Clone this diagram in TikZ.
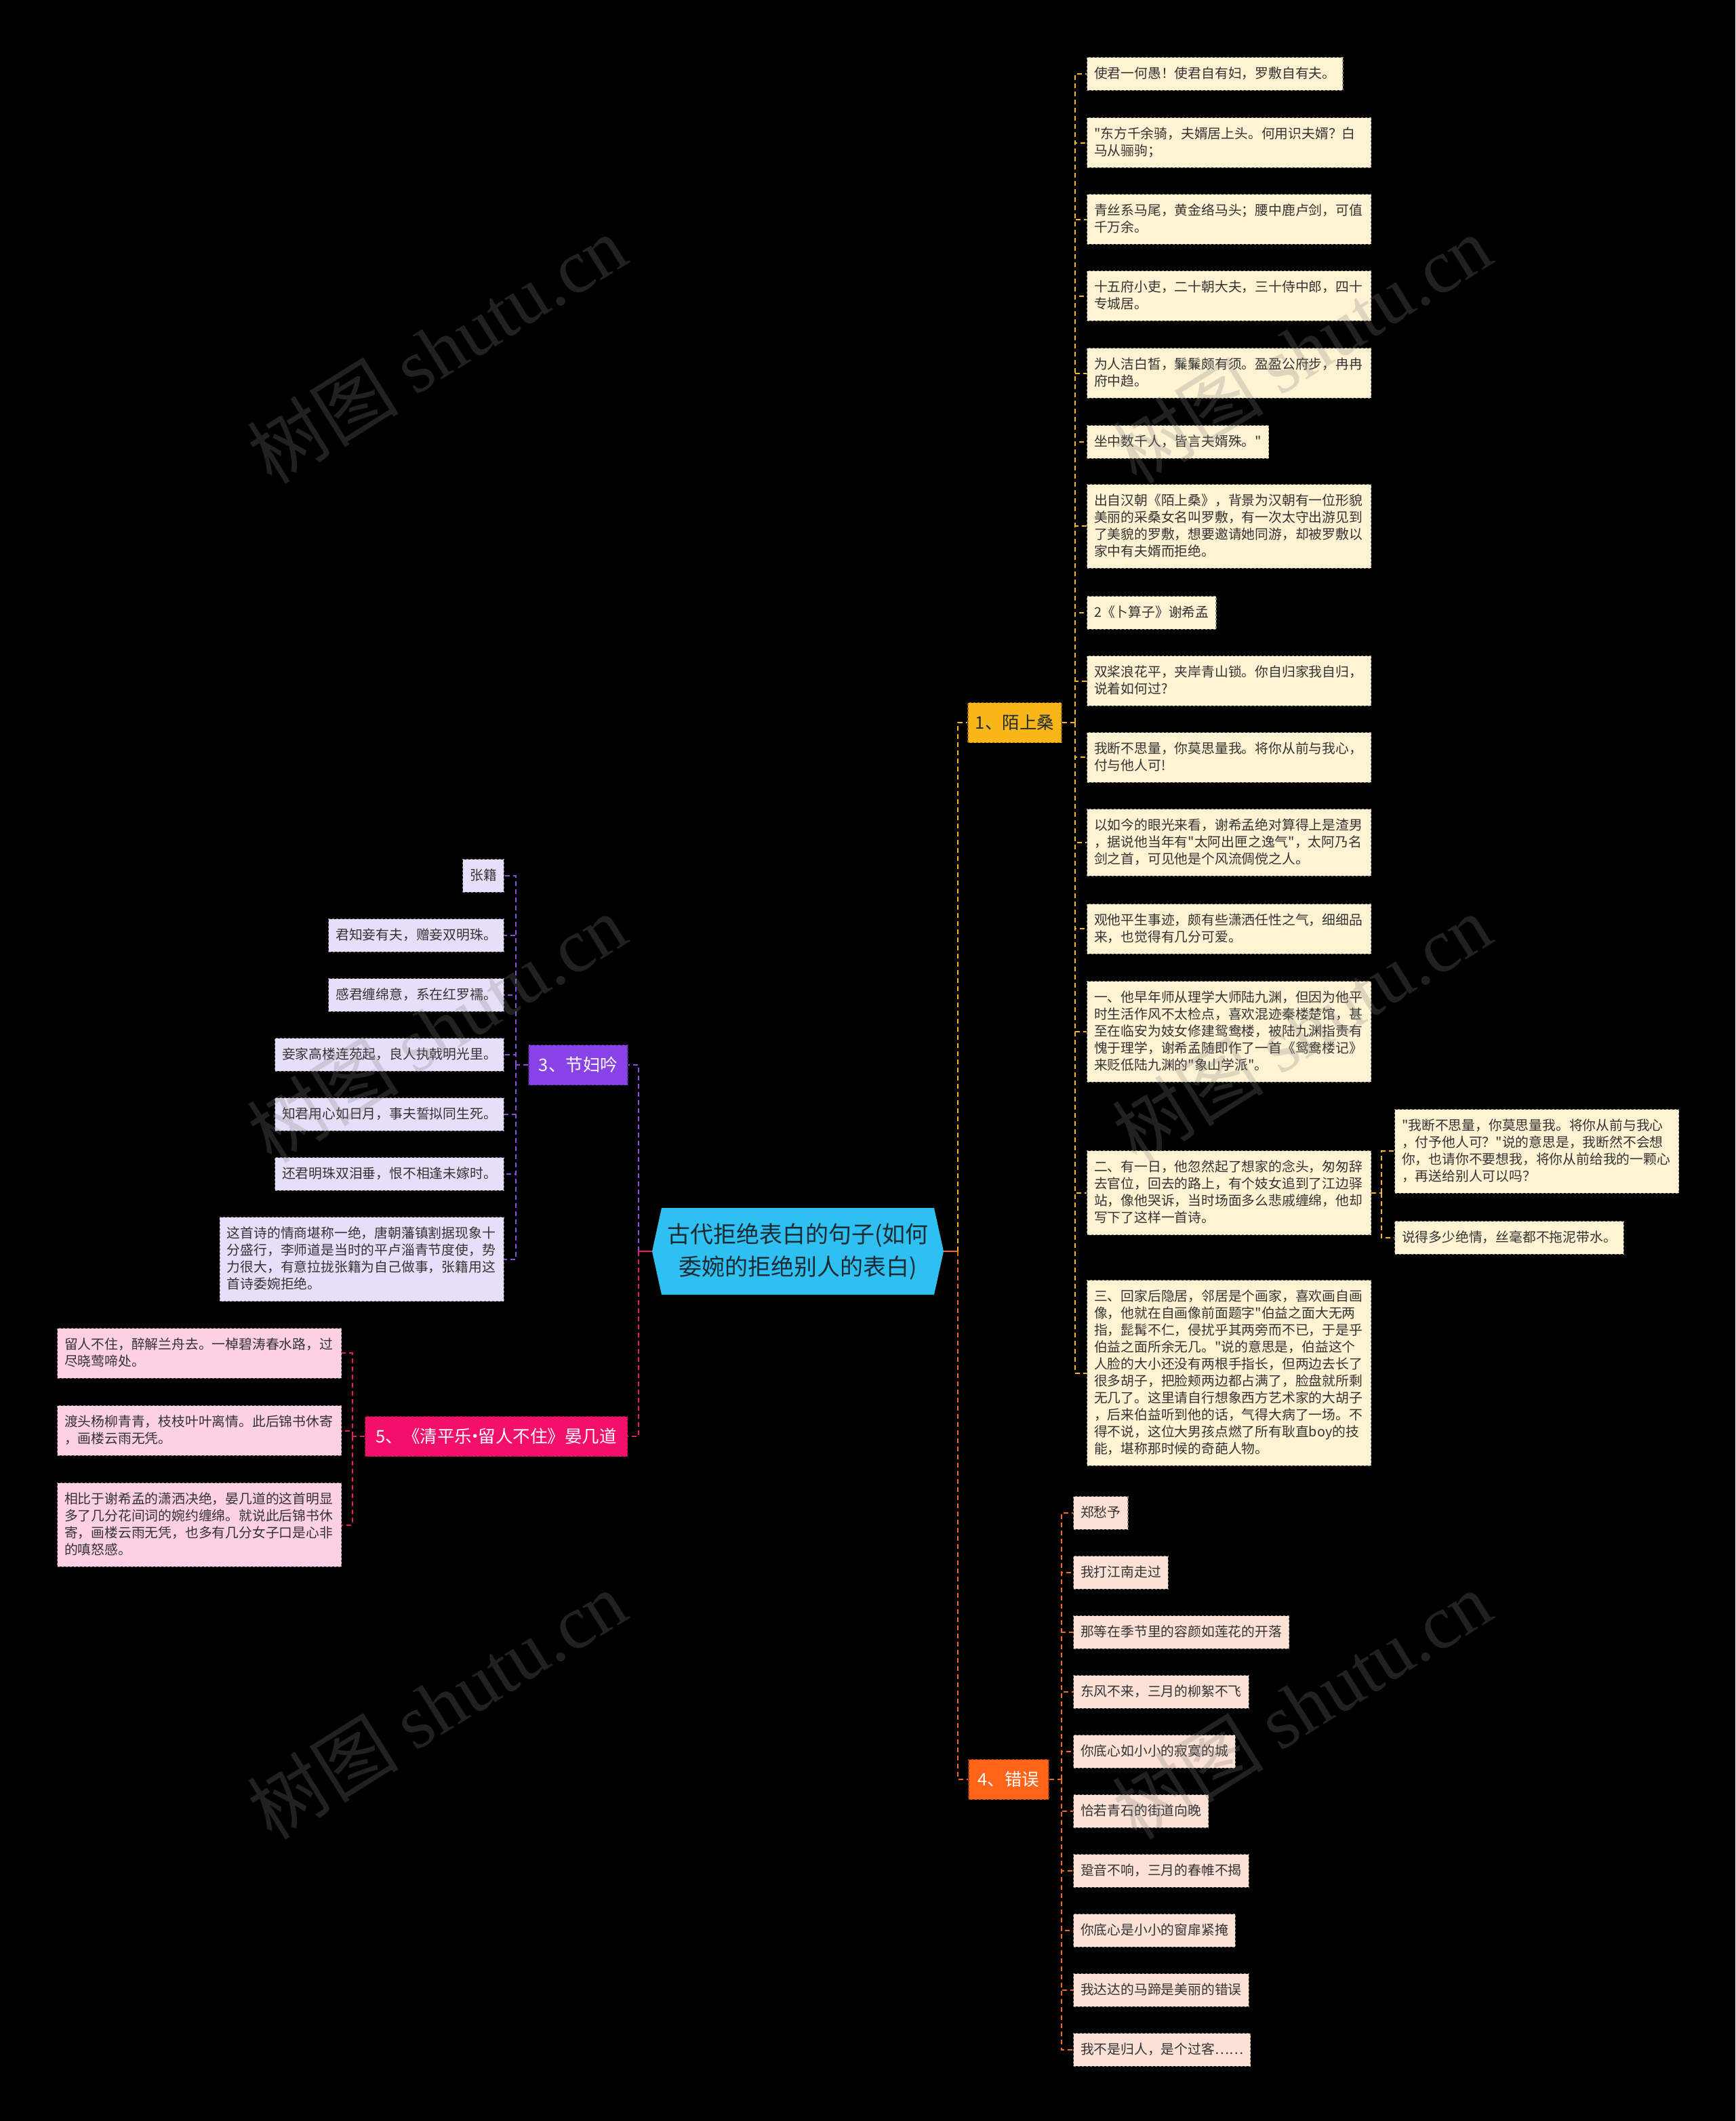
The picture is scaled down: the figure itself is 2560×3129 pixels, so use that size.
\documentclass[tikz,border=0pt]{standalone}
\usepackage{fontspec}
\newfontfamily\cjk{Noto Sans CJK SC}
\newfontfamily\wmlatin{Liberation Serif}
\newcommand\leafsize{\cjk\fontsize{19.8}{25}\selectfont}
\newcommand\branchsize{\cjk\fontsize{25.5}{30}\selectfont}

\definecolor{rootfill}{HTML}{2DC0F0}
\definecolor{roottext}{HTML}{1E2A33}
\definecolor{leaftext}{HTML}{333333}
\definecolor{b1fill}{HTML}{F8B619}
\definecolor{b3fill}{HTML}{8942E6}
\definecolor{b4fill}{HTML}{FF6418}
\definecolor{b5fill}{HTML}{F2106B}
\definecolor{l1fill}{HTML}{FFF3D4}
\definecolor{l3fill}{HTML}{E7DFF9}
\definecolor{l4fill}{HTML}{FCE2D6}
\definecolor{l5fill}{HTML}{FED0E4}
\definecolor{e1}{HTML}{F5B81E}
\definecolor{e3}{HTML}{8A4FE0}
\definecolor{e4}{HTML}{F26A24}
\definecolor{e5}{HTML}{E8196C}

\tikzset{
  leafbox/.style={font=\leafsize, text=leaftext, fill=#1, draw=#1!55!black,
    dashed, line width=1.2pt, inner xsep=10.5pt, inner ysep=14pt,
    execute at begin node=\rule{0pt}{15pt},
    execute at end node=\rule[-4pt]{0pt}{4pt}},
  widebox/.style={text width=398pt, align=left},
  branchbox/.style={font=\branchsize, fill=#1, draw=#1!60!black, dashed,
    line width=1.2pt, inner sep=0pt, minimum height=59pt, text=white},
  link/.style={draw=#1, line width=2pt, dash pattern=on 7pt off 5pt},
  wmark/.style={font=\cjk\fontsize{112}{120}\selectfont, text=gray, opacity=.26, rotate=32}
}

\begin{document}
\begin{tikzpicture}[x=1pt,y=-1pt]
\path[use as bounding box, fill=black] (0,0) rectangle (2560,3129);

\fill[rootfill] (962,1846) -- (976,1782) -- (1378,1782) -- (1392,1846) -- (1378,1910) -- (976,1910) -- cycle;
\node[font=\cjk\fontsize{34}{48}\selectfont, text=roottext, align=center,
  minimum width=430pt, minimum height=128pt, inner sep=0pt] (root) at (1177,1846)
  {古代拒绝表白的句子(如何\\委婉的拒绝别人的表白)};

\node[branchbox=b1fill, text=roottext, minimum width=138pt] (b1) at (1497,1066) {1、陌上桑};
\node[branchbox=b3fill, minimum width=146pt] (b3) at (853,1571) {3、节妇吟};
\node[branchbox=b4fill, minimum width=118pt] (b4) at (1488,2625) {4、错误};
\node[branchbox=b5fill, minimum width=387pt] (b5) at (732,2119) {5、《清平乐\kern-8pt·\kern-8pt留人不住》晏几道};

\node[leafbox=l1fill, anchor=north west] (s1) at (1603,84) {使君一何愚！使君自有妇，罗敷自有夫。};
\node[leafbox=l1fill, widebox, anchor=north west] (s2) at (1603,173) {"东方千余骑，夫婿居上头。何用识夫婿？白\\马从骊驹；};
\node[leafbox=l1fill, widebox, anchor=north west] (s3) at (1603,286) {青丝系马尾，黄金络马头；腰中鹿卢剑，可值\\千万余。};
\node[leafbox=l1fill, widebox, anchor=north west] (s4) at (1603,399) {十五府小吏，二十朝大夫，三十侍中郎，四十\\专城居。};
\node[leafbox=l1fill, widebox, anchor=north west] (s5) at (1603,513) {为人洁白皙，鬑鬑颇有须。盈盈公府步，冉冉\\府中趋。};
\node[leafbox=l1fill, anchor=north west] (s6) at (1603,627) {坐中数千人，皆言夫婿殊。"};
\node[leafbox=l1fill, widebox, anchor=north west] (s7) at (1603,714) {出自汉朝《陌上桑》，背景为汉朝有一位形貌\\美丽的采桑女名叫罗敷，有一次太守出游见到\\了美貌的罗敷，想要邀请她同游，却被罗敷以\\家中有夫婿而拒绝。};
\node[leafbox=l1fill, anchor=north west] (s8) at (1603,879) {2《卜算子》谢希孟};
\node[leafbox=l1fill, widebox, anchor=north west] (s9) at (1603,967) {双桨浪花平，夹岸青山锁。你自归家我自归，\\说着如何过?};
\node[leafbox=l1fill, widebox, anchor=north west] (s10) at (1603,1080) {我断不思量，你莫思量我。将你从前与我心，\\付与他人可!};
\node[leafbox=l1fill, widebox, anchor=north west] (s11) at (1603,1193) {以如今的眼光来看，谢希孟绝对算得上是渣男\\，据说他当年有"太阿出匣之逸气"，太阿乃名\\剑之首，可见他是个风流倜傥之人。};
\node[leafbox=l1fill, widebox, anchor=north west] (s12) at (1603,1333) {观他平生事迹，颇有些潇洒任性之气，细细品\\来，也觉得有几分可爱。};
\node[leafbox=l1fill, widebox, anchor=north west] (s13) at (1603,1447) {一、他早年师从理学大师陆九渊，但因为他平\\时生活作风不太检点，喜欢混迹秦楼楚馆，甚\\至在临安为妓女修建鸳鸯楼，被陆九渊指责有\\愧于理学，谢希孟随即作了一首《鸳鸯楼记》\\来贬低陆九渊的"象山学派"。};
\node[leafbox=l1fill, widebox, anchor=north west] (s14) at (1603,1697) {二、有一日，他忽然起了想家的念头，匆匆辞\\去官位，回去的路上，有个妓女追到了江边驿\\站，像他哭诉，当时场面多么悲戚缠绵，他却\\写下了这样一首诗。};
\node[leafbox=l1fill, widebox, anchor=north west] (s15) at (1603,1888) {三、回家后隐居，邻居是个画家，喜欢画自画\\像，他就在自画像前面题字"伯益之面大无两\\指，髭髯不仁，侵扰乎其两旁而不已，于是乎\\伯益之面所余无几。"说的意思是，伯益这个\\人脸的大小还没有两根手指长，但两边去长了\\很多胡子，把脸颊两边都占满了，脸盘就所剩\\无几了。这里请自行想象西方艺术家的大胡子\\，后来伯益听到他的话，气得大病了一场。不\\得不说，这位大男孩点燃了所有耿直boy的技\\能，堪称那时候的奇葩人物。};
\node[leafbox=l1fill, widebox, anchor=north west] (s14a) at (2057,1636) {"我断不思量，你莫思量我。将你从前与我心\\，付予他人可？"说的意思是，我断然不会想\\你，也请你不要想我，将你从前给我的一颗心\\，再送给别人可以吗？};
\node[leafbox=l1fill, anchor=north west] (s14b) at (2057,1801) {说得多少绝情，丝毫都不拖泥带水。};

\node[leafbox=l3fill, anchor=north east] (j1) at (744,1267) {张籍};
\node[leafbox=l3fill, anchor=north east] (j2) at (744,1355) {君知妾有夫，赠妾双明珠。};
\node[leafbox=l3fill, anchor=north east] (j3) at (744,1443) {感君缠绵意，系在红罗襦。};
\node[leafbox=l3fill, anchor=north east] (j4) at (744,1531) {妾家高楼连苑起，良人执戟明光里。};
\node[leafbox=l3fill, anchor=north east] (j5) at (744,1619) {知君用心如日月，事夫誓拟同生死。};
\node[leafbox=l3fill, anchor=north east] (j6) at (744,1707) {还君明珠双泪垂，恨不相逢未嫁时。};
\node[leafbox=l3fill, widebox, anchor=north east] (j7) at (744,1795) {这首诗的情商堪称一绝，唐朝藩镇割据现象十\\分盛行，李师道是当时的平卢淄青节度使，势\\力很大，有意拉拢张籍为自己做事，张籍用这\\首诗委婉拒绝。};

\node[leafbox=l4fill, anchor=north west] (c1) at (1583,2207) {郑愁予};
\node[leafbox=l4fill, anchor=north west] (c2) at (1583,2295) {我打江南走过};
\node[leafbox=l4fill, anchor=north west] (c3) at (1583,2383) {那等在季节里的容颜如莲花的开落};
\node[leafbox=l4fill, anchor=north west] (c4) at (1583,2471) {东风不来，三月的柳絮不飞};
\node[leafbox=l4fill, anchor=north west] (c5) at (1583,2559) {你底心如小小的寂寞的城};
\node[leafbox=l4fill, anchor=north west] (c6) at (1583,2647) {恰若青石的街道向晚};
\node[leafbox=l4fill, anchor=north west] (c7) at (1583,2735) {跫音不响，三月的春帷不揭};
\node[leafbox=l4fill, anchor=north west] (c8) at (1583,2823) {你底心是小小的窗扉紧掩};
\node[leafbox=l4fill, anchor=north west] (c9) at (1583,2911) {我达达的马蹄是美丽的错误};
\node[leafbox=l4fill, anchor=north west] (c10) at (1583,2999) {我不是归人，是个过客……};

\node[leafbox=l5fill, widebox, anchor=north west] (q1) at (84,1959) {留人不住，醉解兰舟去。一棹碧涛春水路，过\\尽晓莺啼处。};
\node[leafbox=l5fill, widebox, anchor=north west] (q2) at (84,2073) {渡头杨柳青青，枝枝叶叶离情。此后锦书休寄\\，画楼云雨无凭。};
\node[leafbox=l5fill, widebox, anchor=north west] (q3) at (84,2187) {相比于谢希孟的潇洒决绝，晏几道的这首明显\\多了几分花间词的婉约缠绵。就说此后锦书休\\寄，画楼云雨无凭，也多有几分女子口是心非\\的嗔怒感。};

\coordinate (rj) at ([xshift=21pt]root.east);
\coordinate (lj) at ([xshift=-20pt]root.west);
\draw[link=e1] (rj) |- (b1.west);
\draw[link=e4] (rj) |- (b4.west);
\draw[link=e4, solid] (root.east) -- (rj);
\draw[link=e3] (lj) |- (b3.east);
\draw[link=e5] (lj) |- (b5.east);
\draw[link=e5, solid] (root.west) -- (lj);

\coordinate (b1j) at ([xshift=19pt]b1.east);
\draw[link=e1] (b1.east) -- (b1j);
\foreach \i in {1,...,15} \draw[link=e1] (b1j) |- (s\i.west);
\coordinate (s14j) at ([xshift=15pt]s14.east);
\draw[link=e1] (s14.east) -- (s14j);
\draw[link=e1] (s14j) |- (s14a.west);
\draw[link=e1] (s14j) |- (s14b.west);

\coordinate (b3j) at ([xshift=-18pt]b3.west);
\draw[link=e3] (b3.west) -- (b3j);
\foreach \i in {1,...,7} \draw[link=e3] (b3j) |- (j\i.east);

\coordinate (b4j) at ([xshift=18pt]b4.east);
\draw[link=e4] (b4.east) -- (b4j);
\foreach \i in {1,...,10} \draw[link=e4] (b4j) |- (c\i.west);

\coordinate (b5j) at ([xshift=-18pt]b5.west);
\draw[link=e5] (b5.west) -- (b5j);
\foreach \i in {1,2,3} \draw[link=e5] (b5j) |- (q\i.east);

\node[wmark] (w1) at (644,515) {树图 {\wmlatin shutu.cn}};
\node[wmark] (w2) at (1920,515) {树图 {\wmlatin shutu.cn}};
\node[wmark] (w3) at (644,1517) {树图 {\wmlatin shutu.cn}};
\node[wmark] (w4) at (1920,1517) {树图 {\wmlatin shutu.cn}};
\node[wmark] (w5) at (644,2515) {树图 {\wmlatin shutu.cn}};
\node[wmark] (w6) at (1920,2515) {树图 {\wmlatin shutu.cn}};
\end{tikzpicture}
\end{document}
